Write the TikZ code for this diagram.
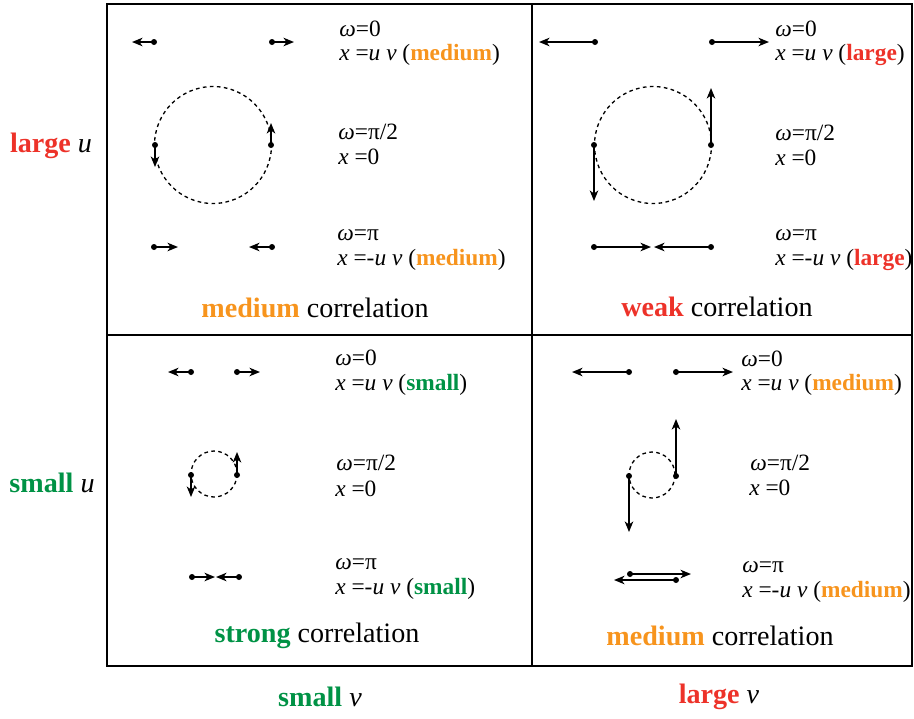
\documentclass[tikz,border=0pt]{standalone}
\usepackage{fontspec}
\setmainfont{Liberation Serif}
\usepackage{xcolor}
\definecolor{corange}{RGB}{247,148,29}
\definecolor{cred}{RGB}{237,50,41}
\definecolor{cgreen}{RGB}{0,146,69}
\usetikzlibrary{arrows.meta}

\newcommand{\om}{\textit{ω}}
\newcommand{\xuv}[3]{\textit{x} =#1\textit{u v} (\textcolor{#2}{\textbf{#3}})}

\begin{document}
\begin{tikzpicture}[
    x=0.02cm, y=-0.02cm,
    dot/.style={circle, fill=black, inner sep=0pt, minimum size=0.12cm},
    vec/.style={-{Stealth[length=0.21cm, width=0.17cm, inset=0.06cm]}, line width=0.9pt, shorten <=-0.03cm},
    orbit/.style={dash pattern=on 2.1pt off 1.9pt, line width=0.75pt},
    eq/.style={anchor=west, inner sep=0pt, font=\fontsize{13.3}{16}\selectfont},
    corr/.style={font=\fontsize{16}{19}\selectfont},
    side/.style={font=\fontsize{16}{19}\selectfont},
]
\useasboundingbox (0,0) rectangle (914,718);

% ---- Grid ----
\draw[line width=1.1pt] (107,4) rectangle (912,666);
\draw[line width=1.1pt] (532,4) -- (532,666);
\draw[line width=1.1pt] (107,335) -- (912,335);

% ---- Side labels ----
\node[side] (lu) at (51,146) {\textcolor{cred}{\textbf{large}} \textit{u}};
\node[side] (su) at (52,483) {\textcolor{cgreen}{\textbf{small}} \textit{u}};
\node[side] (sv) at (320,697) {\textcolor{cgreen}{\textbf{small}} \textit{v}};
\node[side] (lv) at (719,697) {\textcolor{cred}{\textbf{large}} \textit{v}};

% ---- Top left: large u, small v ----
\node[dot] (tla) at (154,42) {};  \coordinate (tlaE) at (132,42);
\node[dot] (tlb) at (272,42) {};  \coordinate (tlbE) at (294,42);
\draw[vec] (tla) -- (tlaE);
\draw[vec] (tlb) -- (tlbE);
\draw[orbit] (213,145) circle [radius=1.17cm];
\node[dot] (tlc) at (155,145) {}; \coordinate (tlcE) at (155,167);
\node[dot] (tld) at (271,145) {}; \coordinate (tldE) at (271,123);
\draw[vec] (tlc) -- (tlcE);
\draw[vec] (tld) -- (tldE);
\node[dot] (tle) at (154,247) {}; \coordinate (tleE) at (178,247);
\node[dot] (tlf) at (272,247) {}; \coordinate (tlfE) at (249,247);
\draw[vec] (tle) -- (tleE);
\draw[vec] (tlf) -- (tlfE);

\node[eq] (tl1) at (339,29)  {\om=0};
\node[eq] (tl2) at (339,55)  {\xuv{}{corange}{medium}};
\node[eq] (tl3) at (338,132) {\om=π/2};
\node[eq] (tl4) at (338,157) {\textit{x} =0};
\node[eq] (tl5) at (337,235) {\om=π};
\node[eq] (tl6) at (337,260) {\xuv{-}{corange}{medium}};
\node[corr] (tlk) at (315,308) {\textcolor{corange}{\textbf{medium}} correlation};

% ---- Top right: large u, large v ----
\node[dot] (tra) at (595,42) {};  \coordinate (traE) at (539,42);
\node[dot] (trb) at (712,42) {};  \coordinate (trbE) at (769,42);
\draw[vec] (tra) -- (traE);
\draw[vec] (trb) -- (trbE);
\draw[orbit] (653,145) circle [radius=1.17cm];
\node[dot] (trc) at (594,145) {}; \coordinate (trcE) at (594,201);
\node[dot] (trd) at (711,145) {}; \coordinate (trdE) at (711,88);
\draw[vec] (trc) -- (trcE);
\draw[vec] (trd) -- (trdE);
\node[dot] (tre) at (594,247) {}; \coordinate (treE) at (651,247);
\node[dot] (trf) at (711,247) {}; \coordinate (trfE) at (654,247);
\draw[vec] (tre) -- (treE);
\draw[vec] (trf) -- (trfE);

\node[eq] (tr1) at (775,29)  {\om=0};
\node[eq] (tr2) at (775,55)  {\xuv{}{cred}{large}};
\node[eq] (tr3) at (775,133) {\om=π/2};
\node[eq] (tr4) at (775,158) {\textit{x} =0};
\node[eq] (tr5) at (775,235) {\om=π};
\node[eq] (tr6) at (775,260) {\xuv{-}{cred}{large}};
\node[corr] (trk) at (717,307) {\textcolor{cred}{\textbf{weak}} correlation};

% ---- Bottom left: small u, small v ----
\node[dot] (bla) at (191,372) {}; \coordinate (blaE) at (168,372);
\node[dot] (blb) at (237,372) {}; \coordinate (blbE) at (260,372);
\draw[vec] (bla) -- (blaE);
\draw[vec] (blb) -- (blbE);
\draw[orbit] (214,474) circle [radius=0.46cm];
\node[dot] (blc) at (191,475) {}; \coordinate (blcE) at (191,497);
\node[dot] (bld) at (237,475) {}; \coordinate (bldE) at (237,452);
\draw[vec] (blc) -- (blcE);
\draw[vec] (bld) -- (bldE);
\node[dot] (ble) at (192,577) {}; \coordinate (bleE) at (215,577);
\node[dot] (blf) at (239,577) {}; \coordinate (blfE) at (216,577);
\draw[vec] (ble) -- (bleE);
\draw[vec] (blf) -- (blfE);

\node[eq] (bl1) at (335,358) {\om=0};
\node[eq] (bl2) at (335,385) {\xuv{}{cgreen}{small}};
\node[eq] (bl3) at (336,463) {\om=π/2};
\node[eq] (bl4) at (335,489) {\textit{x} =0};
\node[eq] (bl5) at (335,564) {\om=π};
\node[eq] (bl6) at (335,589) {\xuv{-}{cgreen}{small}};
\node[corr] (blk) at (317,636) {\textcolor{cgreen}{\textbf{strong}} correlation};

% ---- Bottom right: small u, large v ----
\node[dot] (bra) at (629,372) {}; \coordinate (braE) at (572,372);
\node[dot] (brb) at (676,372) {}; \coordinate (brbE) at (733,372);
\draw[vec] (bra) -- (braE);
\draw[vec] (brb) -- (brbE);
\draw[orbit] (652,475) circle [radius=0.46cm];
\node[dot] (brc) at (629,476) {}; \coordinate (brcE) at (629,532);
\node[dot] (brd) at (676,476) {}; \coordinate (brdE) at (676,419);
\draw[vec] (brc) -- (brcE);
\draw[vec] (brd) -- (brdE);
\node[dot] (bre) at (630,574) {}; \coordinate (breE) at (691,574);
\node[dot] (brf) at (676,580) {}; \coordinate (brfE) at (614,580);
\draw[vec] (bre) -- (breE);
\draw[vec] (brf) -- (brfE);

\node[eq] (br1) at (741,359) {\om=0};
\node[eq] (br2) at (741,385) {\xuv{}{corange}{medium}};
\node[eq] (br3) at (750,463) {\om=π/2};
\node[eq] (br4) at (749,488) {\textit{x} =0};
\node[eq] (br5) at (742,567) {\om=π};
\node[eq] (br6) at (742,592) {\xuv{-}{corange}{medium}};
\node[corr] (brk) at (720,636) {\textcolor{corange}{\textbf{medium}} correlation};

\end{tikzpicture}
\end{document}
